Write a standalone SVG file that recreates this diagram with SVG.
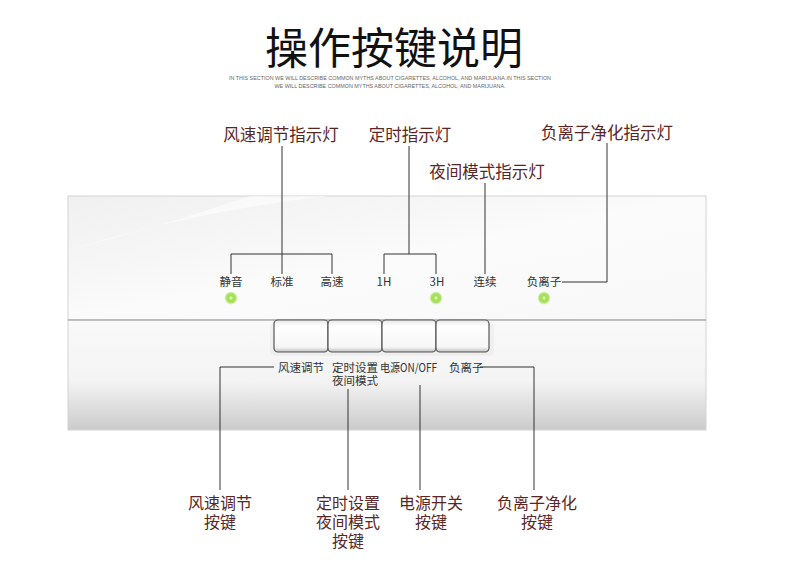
<svg xmlns="http://www.w3.org/2000/svg" width="790" height="588" viewBox="0 0 790 588">
<defs>
<style>
.ttl{font-family:"Noto Sans CJK SC","Noto Sans",sans-serif;font-size:43px;fill:#111;}
.sub{font-family:"Liberation Sans",sans-serif;font-size:5.5px;fill:#666;}
.ann{font-family:"Noto Sans CJK SC",sans-serif;font-size:16.5px;fill:#5a2626;}
.annb{font-family:"Noto Sans CJK SC",sans-serif;font-size:16px;fill:#5a2626;}
.pl{font-family:"Noto Sans CJK SC",sans-serif;font-size:11.5px;fill:#333;}
.ln{stroke:#333;stroke-width:1;fill:none;}
.btn{fill:url(#btnG);stroke:#555;stroke-width:1.2;}
</style>
<linearGradient id="upG" x1="0" y1="0" x2="1" y2="1">
<stop offset="0" stop-color="#f0f0f0"/>
<stop offset="0.35" stop-color="#f7f7f7"/>
<stop offset="0.5" stop-color="#fbfbfb"/>
<stop offset="1" stop-color="#f8f8f8"/>
</linearGradient>
<linearGradient id="loG" x1="0" y1="0" x2="0" y2="1">
<stop offset="0" stop-color="#f9f9f9"/>
<stop offset="0.55" stop-color="#f4f4f4"/>
<stop offset="1" stop-color="#cbcbcb"/>
</linearGradient>
<linearGradient id="btnG" x1="0" y1="0" x2="0" y2="1">
<stop offset="0" stop-color="#e8e8e8"/>
<stop offset="0.2" stop-color="#ffffff"/>
<stop offset="0.85" stop-color="#f6f6f6"/>
<stop offset="1" stop-color="#bdbdbd"/>
</linearGradient>
<radialGradient id="led">
<stop offset="0" stop-color="#f2ffd8"/>
<stop offset="0.35" stop-color="#9fe04a"/>
<stop offset="0.7" stop-color="#8fd83a" stop-opacity="0.7"/>
<stop offset="1" stop-color="#c8f08a" stop-opacity="0"/>
</radialGradient>
</defs>
<rect width="790" height="588" fill="#ffffff"/>

<g id="title">
<text class="ttl" x="394" y="64" text-anchor="middle">操作按键说明</text>
<text class="sub" x="390" y="80" text-anchor="middle" textLength="322" lengthAdjust="spacingAndGlyphs">IN THIS SECTION WE WILL DESCRIBE COMMON MYTHS ABOUT CIGARETTES, ALCOHOL, AND MARIJUANA.IN THIS SECTION</text>
<text class="sub" x="390" y="88" text-anchor="middle" textLength="231" lengthAdjust="spacingAndGlyphs">WE WILL DESCRIBE COMMON MYTHS ABOUT CIGARETTES, ALCOHOL, AND MARIJUANA.</text>
</g>

<g id="panel">
<rect x="68" y="196" width="638" height="124" fill="url(#upG)" stroke="#d4d4d4"/>
<path d="M68 300 L68 250 Q200 210 330 196 L250 196 Q150 230 68 250 Z" fill="#ffffff" opacity="0.5"/>
<rect x="68" y="320" width="638" height="110" fill="url(#loG)" stroke="#d4d4d4"/>
<line x1="68" y1="320" x2="706" y2="320" stroke="#9a9a9a" stroke-width="1"/>
</g>

<g id="buttons">
<rect x="270" y="322" width="224" height="34" rx="5" fill="#000" opacity="0.03"/>
<rect class="btn" x="274" y="320" width="54" height="32" rx="4"/>
<rect class="btn" x="328" y="320" width="54" height="32" rx="4"/>
<rect class="btn" x="382" y="320" width="54" height="32" rx="4"/>
<rect class="btn" x="436" y="320" width="53" height="32" rx="4"/>
</g>

<g id="leds">
<circle cx="231" cy="298" r="7" fill="url(#led)"/>
<circle cx="436" cy="298" r="7" fill="url(#led)"/>
<circle cx="544" cy="298" r="7" fill="url(#led)"/>
</g>

<g id="panel-labels">
<text class="pl" x="231" y="286" text-anchor="middle">静音</text>
<text class="pl" x="282" y="286" text-anchor="middle">标准</text>
<text class="pl" x="332" y="286" text-anchor="middle">高速</text>
<text class="pl" x="384" y="286" text-anchor="middle">1H</text>
<text class="pl" x="437" y="286" text-anchor="middle">3H</text>
<text class="pl" x="485" y="286" text-anchor="middle">连续</text>
<text class="pl" x="544" y="286" text-anchor="middle">负离子</text>
<text class="pl" x="278" y="372">风速调节</text>
<text class="pl" x="332" y="372">定时设置</text>
<text class="pl" x="332" y="385">夜间模式</text>
<text class="pl" x="380" y="372" textLength="57" lengthAdjust="spacingAndGlyphs">电源ON/OFF</text>
<text class="pl" x="449" y="372">负离子</text>
</g>

<g id="connectors">
<path class="ln" d="M282 146 V274 M231 274 V254 H332 V274"/>
<path class="ln" d="M409 146 V254 M384 274 V254 H436 V274"/>
<path class="ln" d="M485 183 V274"/>
<path class="ln" d="M562 282 H607 V143"/>
<path class="ln" d="M274 367 H220 V490"/>
<path class="ln" d="M348 389 V490"/>
<path class="ln" d="M420 385 V490"/>
<path class="ln" d="M480 367 H534 V490"/>
</g>

<g id="top-annotations">
<text class="ann" x="281" y="141" text-anchor="middle">风速调节指示灯</text>
<text class="ann" x="410" y="141" text-anchor="middle">定时指示灯</text>
<text class="ann" x="487" y="178" text-anchor="middle">夜间模式指示灯</text>
<text class="ann" x="607" y="139" text-anchor="middle">负离子净化指示灯</text>
</g>

<g id="bottom-annotations">
<text class="annb" x="220" y="509" text-anchor="middle">风速调节</text>
<text class="annb" x="220" y="528" text-anchor="middle">按键</text>
<text class="annb" x="348" y="509" text-anchor="middle">定时设置</text>
<text class="annb" x="348" y="528" text-anchor="middle">夜间模式</text>
<text class="annb" x="348" y="547" text-anchor="middle">按键</text>
<text class="annb" x="431" y="509" text-anchor="middle">电源开关</text>
<text class="annb" x="431" y="528" text-anchor="middle">按键</text>
<text class="annb" x="537" y="509" text-anchor="middle">负离子净化</text>
<text class="annb" x="537" y="528" text-anchor="middle">按键</text>
</g>
</svg>
